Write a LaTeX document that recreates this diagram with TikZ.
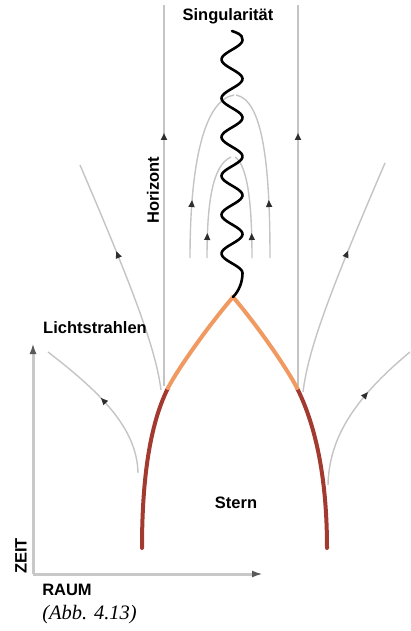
\documentclass[tikz,border=0pt]{standalone}
\usepackage{fontspec}
\setmainfont{Liberation Sans}
\newfontfamily\abbfont{Liberation Serif}
\usepackage{tikz}
\usetikzlibrary{positioning,arrows.meta,decorations.markings}
\definecolor{bhray}{HTML}{C4C4C4}
\definecolor{bhtip}{HTML}{2E2E2E}
\definecolor{bhaxis}{HTML}{C8C8C8}
\definecolor{bhstar}{HTML}{A23A30}
\definecolor{bhglow}{HTML}{F09A62}

\begin{document}
\begin{tikzpicture}[x=1pt,y=-1pt,
  lbl/.style={font=\fontsize{16.5}{18}\selectfont\bfseries,inner sep=0pt},
  ray/.style={bhray,line width=1.4pt},
  midarr/.style={postaction={decorate},decoration={markings,mark=at position #1 with {\arrow{Triangle[length=7pt,width=6pt,color=bhtip]}}}},
  surf/.style={line width=4pt,line cap=round},
  wave/.style={line width=2.6pt,line cap=round},
  ax/.style={bhaxis,line width=3pt,-{Latex[length=11pt,width=7pt,color=gray!70!black]}}
]
\useasboundingbox (0,0) rectangle (410,631);

\coordinate (apex) at (233,297);
\coordinate (lknee) at (168,388);
\coordinate (rknee) at (297,388);
\coordinate (lfoot) at (142,548);
\coordinate (rfoot) at (327,548);
\coordinate (top) at (232,31);
\coordinate (o) at (33,574);

% horizon
\draw[ray,line width=1.8pt,midarr=253pt] (164,386) -- (164,5);
\draw[ray,line width=1.8pt,midarr=253pt] (298,386) -- (298,5);

% light rays inside
\draw[ray,midarr=58pt] (190,258) .. controls (190,160) and (205,100) .. (234,95);
\draw[ray,midarr=58pt] (270,258) .. controls (270,160) and (262,100) .. (236,95);
\draw[ray,midarr=25pt] (207,258) .. controls (207,200) and (213,165) .. (231,157);
\draw[ray,midarr=25pt] (252,258) .. controls (252,200) and (247,165) .. (235,157);

% light rays outside
\draw[ray,midarr=0.55] (138,473) .. controls (137,430) and (104,395) .. (48,352);
\draw[ray,midarr=0.61] (161,390) .. controls (156,352) and (138,300) .. (80,165);
\draw[ray,midarr=0.61] (303,392) .. controls (308,352) and (326,300) .. (385,163);
\draw[ray,midarr=0.64] (328,485) .. controls (329,440) and (352,400) .. (410,352);

% star surface
\draw[surf,bhstar] (lfoot) .. controls +(0,-78) and +(-16,32) .. (lknee);
\draw[surf,bhglow] (lknee) .. controls +(8,-16) and +(-28,33) .. (apex);
\draw[surf,bhstar] (rfoot) .. controls +(0,-78) and +(16,32) .. (rknee);
\draw[surf,bhglow] (rknee) .. controls +(-8,-16) and +(28,33) .. (apex);

% singularity
\draw[wave] (apex) .. controls +(6,-6) and +(0,9) .. (242.5,273)
  -- plot[smooth,domain=24:257,samples=140] ({232+10.5*sin(90+(\x-24)/38.83*360)},{297-\x})
  .. controls +(0,-6) and +(5,2) .. (top);

% axes
\draw[ax] (o) -- (33,343);
\draw[ax] (o) -- (263,574);

\node[lbl] (sing) at (228,16) {Singularität};
\node[lbl,rotate=90] (hor) at (153,190) {Horizont};
\node[lbl] (licht) at (95,328) {Lichtstrahlen};
\node[lbl] (stern) at (236,503) {Stern};
\node[lbl,rotate=90] (zeit) at (21,556) {ZEIT};
\node[lbl] (raum) at (67,590) {RAUM};
\node[font=\abbfont\itshape\fontsize{20.5}{22}\selectfont,inner sep=0pt,below right=9pt and 0pt of raum.south west] (abb) {(Abb. 4.13)};
\end{tikzpicture}
\end{document}
